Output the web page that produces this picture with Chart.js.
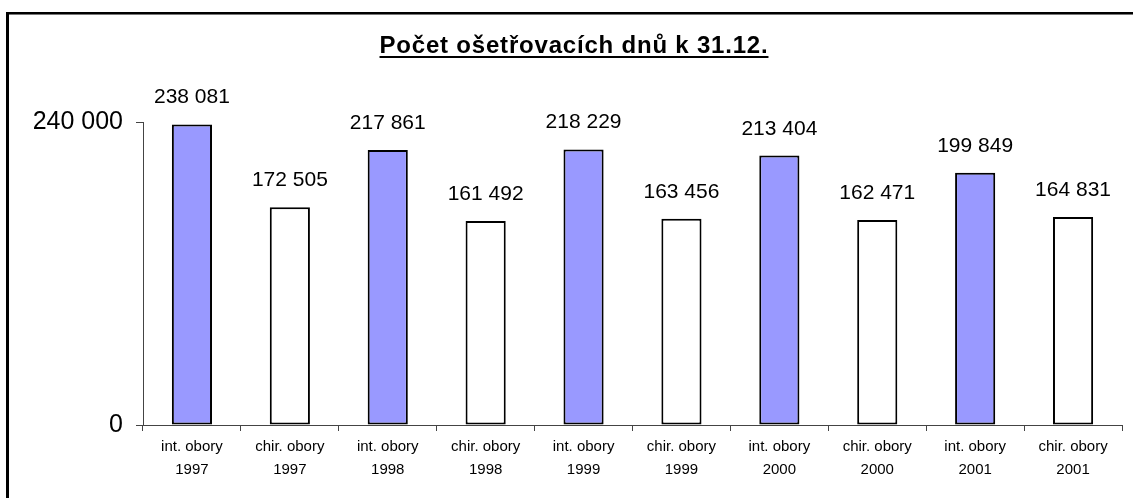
<!DOCTYPE html>
<html>
<head>
<meta charset="utf-8">
<script src="https://cdn.jsdelivr.net/npm/chart.js@4"></script>
<style>
  html, body { margin: 0; padding: 0; background: #fff; overflow: hidden; }
  #frame {
    position: absolute; left: 6px; top: 12px; width: 1300px; height: 700px;
    border-left: 3px solid #000; border-top: 2px solid #000;
    box-shadow: inset 0 1px 0 #777;
  }
  #chart { position: absolute; left: 0; top: 0; }
</style>
</head>
<body>
<div id="frame"></div>
<canvas id="chart" width="1133" height="498"></canvas>
<script>
// Chart data
const titleText = "Počet ošetřovacích dnů k 31.12.";
const categories = [
  ["int. obory", "1997"], ["chir. obory", "1997"],
  ["int. obory", "1998"], ["chir. obory", "1998"],
  ["int. obory", "1999"], ["chir. obory", "1999"],
  ["int. obory", "2000"], ["chir. obory", "2000"],
  ["int. obory", "2001"], ["chir. obory", "2001"],
];
const values = [238081, 172505, 217861, 161492, 218229, 163456, 213404, 162471, 199849, 164831];
const yTicks = [0, 240000];

const FONT = "'Liberation Sans', Arial, sans-serif";

// format with space as thousands separator
function fmt(v) {
  return String(v).replace(/\B(?=(\d{3})+(?!\d))/g, " ");
}

const titlePlugin = {
  id: "underlinedTitle",
  afterDraw(chart) {
    const ctx = chart.ctx;
    ctx.save();
    ctx.font = "bold 24px " + FONT;
    ctx.letterSpacing = "0.8px";
    ctx.fillStyle = "#000";
    ctx.textAlign = "center";
    ctx.textBaseline = "alphabetic";
    const cx = 574;
    ctx.fillText(titleText, cx, 53);
    const w = ctx.measureText(titleText).width;
    ctx.fillRect(cx - w / 2, 56, w, 2);
    ctx.restore();
  },
};

const labelPlugin = {
  id: "barLabels",
  afterDatasetsDraw(chart) {
    const ctx = chart.ctx;
    const meta = chart.getDatasetMeta(0);
    ctx.save();
    ctx.font = "21px " + FONT;
    ctx.fillStyle = "#000";
    ctx.textAlign = "center";
    ctx.textBaseline = "alphabetic";
    meta.data.forEach((bar, i) => {
      ctx.fillText(fmt(values[i]), bar.x, bar.y - 21);
    });
    ctx.restore();
  },
};

new Chart(document.getElementById("chart"), {
  type: "bar",
  data: {
    labels: categories,
    datasets: [
      {
        data: values,
        backgroundColor: values.map((v, i) => (i % 2 === 0 ? "#9999ff" : "#ffffff")),
        borderColor: "#000",
        borderWidth: 2,
        borderSkipped: false,
        categoryPercentage: 1,
        barPercentage: 0.41,
      },
    ],
  },
  options: {
    responsive: false,
    animation: false,
    layout: { padding: { left: 0, right: 11, top: 122, bottom: 0 } },
    plugins: { legend: { display: false }, tooltip: { enabled: false }, title: { display: false } },
    scales: {
      x: {
        grid: { drawOnChartArea: false, tickLength: 6, color: "#444", offset: true },
        border: { color: "#444", width: 1 },
        ticks: {
          color: "#000",
          font: { family: FONT, size: 15, lineHeight: 1.5 },
          padding: 5,
          maxRotation: 0,
          autoSkip: false,
        },
        afterFit(scale) { scale.height = 73; },
      },
      y: {
        min: 0,
        max: 240000,
        grid: { drawOnChartArea: false, tickLength: 7, color: "#444" },
        border: { color: "#444", width: 1 },
        afterBuildTicks(scale) { scale.ticks = yTicks.map((v) => ({ value: v })); },
        ticks: {
          color: "#000",
          font: { family: FONT, size: 25 },
          padding: 13,
          callback: (v) => fmt(v),
        },
        afterFit(scale) { scale.width = 143; },
      },
    },
  },
  plugins: [titlePlugin, labelPlugin],
});
</script>
</body>
</html>
